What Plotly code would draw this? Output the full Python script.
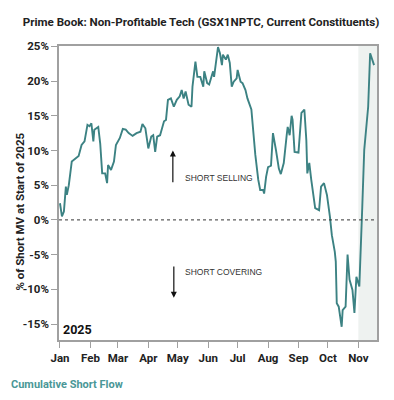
import plotly.graph_objects as go

dates = [
    "2025-01-01", "2025-01-03", "2025-01-05", "2025-01-07", "2025-01-08", "2025-01-10",
    "2025-01-13", "2025-01-17", "2025-01-20", "2025-01-23", "2025-01-26", "2025-01-29",
    "2025-01-31", "2025-02-02", "2025-02-04", "2025-02-05", "2025-02-09", "2025-02-11",
    "2025-02-13", "2025-02-16", "2025-02-18", "2025-02-19", "2025-02-22", "2025-02-25",
    "2025-02-27", "2025-03-03", "2025-03-06", "2025-03-09", "2025-03-12", "2025-03-16",
    "2025-03-20", "2025-03-24", "2025-03-26", "2025-03-29", "2025-04-01", "2025-04-04",
    "2025-04-06", "2025-04-08", "2025-04-10", "2025-04-13", "2025-04-17", "2025-04-19",
    "2025-04-21", "2025-04-24", "2025-04-27", "2025-04-30", "2025-05-03", "2025-05-05",
    "2025-05-07", "2025-05-09", "2025-05-12", "2025-05-15", "2025-05-16", "2025-05-19",
    "2025-05-21", "2025-05-24", "2025-05-27", "2025-05-28", "2025-05-31", "2025-06-02",
    "2025-06-06", "2025-06-07", "2025-06-11", "2025-06-13", "2025-06-15", "2025-06-16",
    "2025-06-19", "2025-06-21", "2025-06-23", "2025-06-25", "2025-06-27", "2025-06-30",
    "2025-07-01", "2025-07-04", "2025-07-06", "2025-07-09", "2025-07-11", "2025-07-15",
    "2025-07-17", "2025-07-18", "2025-07-19", "2025-07-22", "2025-07-24", "2025-07-27",
    "2025-07-28", "2025-07-30", "2025-08-01", "2025-08-04", "2025-08-06", "2025-08-09",
    "2025-08-12", "2025-08-14", "2025-08-17", "2025-08-20", "2025-08-21", "2025-08-23",
    "2025-08-25", "2025-08-26", "2025-08-28", "2025-09-01", "2025-09-02", "2025-09-04",
    "2025-09-07", "2025-09-09", "2025-09-10", "2025-09-12", "2025-09-14", "2025-09-16",
    "2025-09-18", "2025-09-22", "2025-09-24", "2025-09-27", "2025-09-30", "2025-10-03",
    "2025-10-05", "2025-10-08", "2025-10-09", "2025-10-10", "2025-10-12", "2025-10-15",
    "2025-10-16", "2025-10-19", "2025-10-21", "2025-10-23", "2025-10-26", "2025-10-28",
    "2025-10-30", "2025-11-02", "2025-11-04", "2025-11-05", "2025-11-07", "2025-11-11",
    "2025-11-13", "2025-11-15", "2025-11-17",
]

cum_short_flow = [
    2.4, 0.5, 1.2, 4.8, 3.6, 5.0,
    8.4, 8.9, 9.2, 10.8, 11.3, 13.7,
    13.5, 13.9, 11.3, 13.0, 13.4, 11.0,
    6.7, 6.7, 5.3, 7.9, 7.2, 8.4,
    10.8, 11.8, 13.1, 13.0, 12.5, 12.1,
    12.5, 12.7, 13.8, 13.2, 10.3, 12.0,
    12.2, 9.8, 12.0, 12.2, 14.2, 14.4,
    17.3, 17.5, 16.3, 17.3, 17.8, 18.7,
    17.5, 18.5, 16.6, 16.3, 19.2, 22.8,
    20.6, 20.6, 19.2, 21.4, 19.7, 19.5,
    21.4, 20.6, 24.9, 24.0, 22.3, 23.8,
    23.1, 23.8, 22.6, 19.2, 19.9, 20.4,
    21.6, 19.9, 19.7, 18.7, 17.5, 15.9,
    12.5, 10.1, 9.4, 5.8, 4.3, 4.3,
    3.8, 6.2, 7.6, 7.8, 12.5, 10.1,
    7.4, 6.6, 8.2, 12.2, 13.4, 12.2,
    15.0, 14.4, 9.8, 9.7, 12.0, 15.4,
    15.9, 11.5, 6.7, 8.2, 5.8, 3.6,
    1.7, 1.4, 4.8, 5.3, 3.6, 0.5,
    -2.2, -4.6, -6.0, -12.0, -12.5, -15.4,
    -13.0, -12.5, -5.0, -8.6, -10.1, -13.4,
    -8.2, -9.6, -2.9, 1.9, 10.1, 16.3,
    24.0, 23.1, 22.3,
]

month_ticks = ["2025-01-01", "2025-02-01", "2025-03-01", "2025-04-01", "2025-05-01",
               "2025-06-01", "2025-07-01", "2025-08-01", "2025-09-01", "2025-10-01",
               "2025-11-01"]
month_labels = ["Jan", "Feb", "Mar", "Apr", "May", "Jun", "Jul", "Aug", "Sep", "Oct", "Nov"]
y_ticks = [-15, -10, -5, 0, 5, 10, 15, 20, 25]
y_labels = ["-15%", "-10%", "-5%", "0%", "5%", "10%", "15%", "20%", "25%"]

x_range = ["2024-12-31", "2025-11-20"]
shade_start = "2025-11-01"

line_color = "#3c8283"
axis_color = "#a0a0a0"
bold_font = dict(family="Roboto", size=11.5, color="#222222", weight="bold")

fig = go.Figure()

fig.add_trace(go.Scatter(
    x=dates, y=cum_short_flow, mode="lines",
    line=dict(color=line_color, width=1.9),
    hoverinfo="skip", showlegend=False,
))

fig.add_shape(type="rect", xref="x", yref="paper", x0=shade_start, x1=x_range[1],
              y0=0, y1=1, fillcolor="#eef2f0", line=dict(width=0), layer="below")
fig.add_shape(type="line", xref="paper", yref="y", x0=0, x1=1, y0=0, y1=0,
              line=dict(color="#333333", width=1, dash="dot"))

# arrows
fig.add_annotation(x="2025-04-26", y=10.0, ax="2025-04-26", ay=5.2,
                   xref="x", yref="y", axref="x", ayref="y", text="",
                   showarrow=True, arrowhead=2, arrowsize=1, arrowwidth=1.2,
                   arrowcolor="#111111")
fig.add_annotation(x="2025-04-27", y=-11.2, ax="2025-04-27", ay=-6.5,
                   xref="x", yref="y", axref="x", ayref="y", text="",
                   showarrow=True, arrowhead=2, arrowsize=1, arrowwidth=1.2,
                   arrowcolor="#111111")
fig.add_annotation(x="2025-05-06", y=6.1, xref="x", yref="y", text="SHORT SELLING",
                   showarrow=False, xanchor="left", yanchor="middle",
                   font=dict(family="Liberation Sans", size=8.5, color="#333333"))
fig.add_annotation(x="2025-05-06", y=-7.5, xref="x", yref="y", text="SHORT COVERING",
                   showarrow=False, xanchor="left", yanchor="middle",
                   font=dict(family="Liberation Sans", size=8.5, color="#333333"))

fig.add_annotation(x=0.005, y=0.005, xref="paper", yref="paper", text="2025",
                   showarrow=False, xanchor="left", yanchor="bottom",
                   font=dict(family="Roboto", size=12.5, color="#111111", weight="bold"))

# y-axis title (placed as in the reference, slightly below plot centre)
fig.add_annotation(x=-0.1226, y=0.437, xref="paper", yref="paper",
                   text="% of Short MV at Start of 2025", showarrow=False, textangle=-90,
                   xanchor="center", yanchor="middle",
                   font=dict(family="Roboto", size=11.5, color="#222222", weight="bold"))

fig.add_annotation(x=-0.158, y=-0.153, xref="paper", yref="paper",
                   text="Cumulative Short Flow", showarrow=False,
                   xanchor="left", yanchor="middle",
                   font=dict(family="Roboto", size=11, color="#4a9797", weight="bold"))

# the page adds an 8px body margin, so the figure is offset by 8px
fig.update_layout(
    width=386, height=392,
    margin=dict(l=51, r=17, t=38, b=60),
    paper_bgcolor="white", plot_bgcolor="white",
    title=dict(text="Prime Book: Non-Profitable Tech (GSX1NPTC, Current Constituents)",
               x=0.5, xanchor="center", y=1 - 14 / 392, yanchor="middle",
               font=dict(family="Roboto", size=11.6, color="#222222", weight="bold")),
    xaxis=dict(range=x_range, tickvals=month_ticks, ticktext=month_labels,
               showgrid=False, zeroline=False, showline=True, linecolor=axis_color,
               linewidth=1.5, mirror=True, ticks="outside", ticklen=6,
               tickcolor=axis_color, tickfont=bold_font),
    yaxis=dict(range=[-17.3, 25.05], tickvals=y_ticks, ticktext=y_labels,
               showgrid=False, zeroline=False, showline=True, linecolor=axis_color,
               linewidth=1.5, mirror=True, ticks="outside", ticklen=6,
               tickcolor=axis_color, tickfont=bold_font),
)

fig.write_html("out.html")
